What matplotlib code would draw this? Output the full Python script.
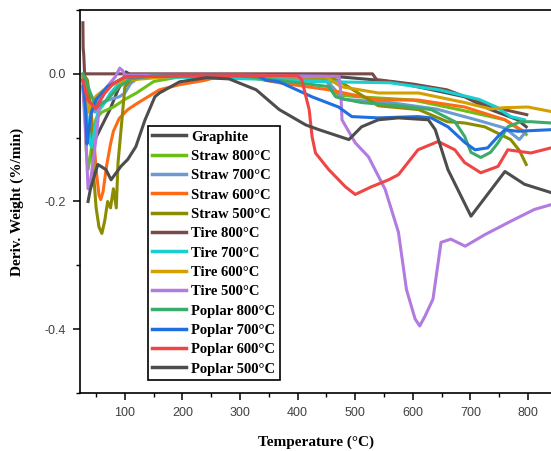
import matplotlib
matplotlib.use("Agg")
import matplotlib.pyplot as plt
from matplotlib.ticker import MultipleLocator

labels = ["Graphite", "Straw 800°C", "Straw 700°C", "Straw 600°C", "Straw 500°C",
          "Tire 800°C", "Tire 700°C", "Tire 600°C", "Tire 500°C",
          "Poplar 800°C", "Poplar 700°C", "Poplar 600°C", "Poplar 500°C"]
colors = ["#4d4d4d", "#6cbf14", "#6b9bd1", "#ff6a14", "#8c8c00",
          "#7a4a48", "#18cfd2", "#d4a000", "#b27bdf",
          "#3aab6a", "#1f6fe0", "#f04545", "#4d4d4d"]

graphite_x = [27, 34, 40, 45, 48, 59, 74, 88, 97, 102, 110, 150, 300, 450, 528, 575, 649, 690, 735, 782, 797]
graphite_y = [-0.02, -0.09, -0.105, -0.112, -0.103, -0.083, -0.056, -0.025, -0.01, 0.003, -0.002, -0.002,
              -0.002, -0.003, -0.009, -0.014, -0.028, -0.036, -0.056, -0.072, -0.083]

straw800_x = [27, 30, 33, 36, 40, 45, 50, 60, 80, 100, 120, 150, 200, 320, 450, 455, 470, 505, 600, 680, 760, 790, 797]
straw800_y = [-0.002, -0.03, -0.12, -0.15, -0.13, -0.09, -0.07, -0.06, -0.052, -0.04, -0.03, -0.012, -0.004,
              -0.003, -0.009, -0.02, -0.033, -0.036, -0.041, -0.056, -0.072, -0.09, -0.095]

straw700_x = [27, 30, 33, 36, 40, 45, 48, 52, 60, 75, 90, 100, 110, 125, 300, 440, 454, 480, 560, 640, 710, 760, 785, 797]
straw700_y = [-0.005, -0.02, -0.06, -0.085, -0.07, -0.05, -0.06, -0.04, -0.045, -0.04, -0.036, -0.03, -0.015,
              -0.005, -0.003, -0.007, -0.014, -0.04, -0.045, -0.055, -0.072, -0.085, -0.103, -0.09]

straw600_x = [27, 35, 40, 45, 50, 55, 58, 62, 68, 75, 80, 90, 105, 120, 140, 160, 195, 240, 270, 300, 368, 454, 540, 609, 690, 760, 794]
straw600_y = [-0.005, -0.03, -0.05, -0.09, -0.15, -0.19, -0.197, -0.185, -0.145, -0.11, -0.09, -0.07, -0.056,
              -0.047, -0.036, -0.025, -0.017, -0.01, -0.002, -0.003, -0.014, -0.025, -0.041, -0.041, -0.052,
              -0.072, -0.091]

straw500_x = [27, 30, 35, 40, 45, 50, 55, 60, 65, 70, 75, 80, 85, 88, 92, 97, 100, 110, 150, 300, 450, 470,
              540, 610, 660, 690, 725, 770, 785, 797]
straw500_y = [0.0, -0.003, -0.01, -0.05, -0.15, -0.21, -0.24, -0.25, -0.23, -0.2, -0.21, -0.18, -0.21, -0.14,
              -0.1, -0.05, -0.02, -0.01, -0.003, -0.002, -0.006, -0.01, -0.05, -0.056, -0.075, -0.077, -0.083,
              -0.103, -0.12, -0.142]

tire800_x = [27, 27.5, 28.5, 30, 530, 537, 600, 659, 739, 798]
tire800_y = [0.08, 0.04, 0.03, 0.0, 0.0, -0.009, -0.016, -0.025, -0.052, -0.064]

tire700_x = [27, 32, 37, 40, 42, 45, 53, 65, 75, 85, 100, 130, 368, 425, 560, 645, 715, 745, 770, 794]
tire700_y = [-0.01, -0.05, -0.09, -0.11, -0.115, -0.1, -0.06, -0.045, -0.03, -0.02, -0.01, -0.004, -0.009,
             -0.012, -0.014, -0.025, -0.04, -0.052, -0.067, -0.072]

tire600_x = [27, 30, 33, 36, 40, 50, 70, 100, 200, 450, 475, 540, 610, 690, 735, 760, 800, 840]
tire600_y = [-0.005, -0.015, -0.04, -0.06, -0.05, -0.035, -0.02, -0.01, -0.003, -0.005, -0.02, -0.03, -0.03,
             -0.045, -0.055, -0.053, -0.052, -0.059]

tire500_x = [27, 32, 36, 40, 45, 50, 57, 69, 83, 91, 96, 100, 300, 472, 475, 477, 500, 523, 552, 575, 589,
             604, 612, 621, 635, 649, 666, 691, 725, 770, 811, 840]
tire500_y = [-0.02, -0.1, -0.18, -0.17, -0.135, -0.1, -0.04, -0.02, -0.005, 0.009, 0.005, -0.002, -0.002,
             -0.004, -0.03, -0.072, -0.108, -0.13, -0.181, -0.248, -0.338, -0.384, -0.395, -0.38, -0.353,
             -0.264, -0.259, -0.27, -0.252, -0.231, -0.2125, -0.205]

poplar800_x = [27, 32, 40, 47, 55, 70, 90, 110, 150, 300, 454, 466, 483, 511, 575, 632, 673, 690, 701, 718,
               735, 748, 765, 787, 805, 840]
poplar800_y = [0.0, -0.01, -0.03, -0.045, -0.05, -0.04, -0.02, -0.008, -0.003, -0.003, -0.02, -0.036, -0.04,
               -0.045, -0.05, -0.056, -0.075, -0.098, -0.123, -0.131, -0.123, -0.108, -0.083, -0.075, -0.075,
               -0.077]

poplar700_x = [27, 32, 34, 37, 42, 50, 70, 100, 200, 330, 345, 368, 425, 471, 494, 540, 609, 632, 661, 691,
               708, 730, 748, 760, 782, 840]
poplar700_y = [-0.01, -0.06, -0.11, -0.09, -0.06, -0.04, -0.02, -0.005, -0.003, -0.003, -0.01, -0.0125,
               -0.036, -0.052, -0.067, -0.069, -0.067, -0.069, -0.083, -0.108, -0.119, -0.116, -0.098,
               -0.0875, -0.09, -0.0875]

poplar600_x = [27, 35, 45, 50, 55, 65, 80, 100, 200, 400, 407, 420, 425, 431, 454, 483, 500, 528, 558, 575,
               609, 644, 673, 690, 718, 748, 765, 805, 840]
poplar600_y = [-0.01, -0.04, -0.05, -0.055, -0.045, -0.03, -0.015, -0.005, -0.003, -0.003, -0.009, -0.056,
               -0.098, -0.124, -0.15, -0.177, -0.189, -0.177, -0.166, -0.158, -0.119, -0.106, -0.119, -0.139,
               -0.155, -0.145, -0.119, -0.124, -0.116]

poplar500_x = [36, 40, 53, 67, 76, 93, 105, 119, 135, 152, 160, 195, 242, 281, 328, 368, 414, 437, 489, 511,
               540, 575, 627, 639, 661, 701, 760, 794, 840]
poplar500_y = [-0.2, -0.181, -0.142, -0.15, -0.166, -0.145, -0.134, -0.114, -0.072, -0.036, -0.030, -0.0125,
               -0.006, -0.008, -0.025, -0.056, -0.080, -0.0875, -0.103, -0.083, -0.072, -0.069, -0.072,
               -0.0875, -0.15, -0.223, -0.153, -0.173, -0.186]

series_x = [graphite_x, straw800_x, straw700_x, straw600_x, straw500_x, tire800_x, tire700_x, tire600_x,
            tire500_x, poplar800_x, poplar700_x, poplar600_x, poplar500_x]
series_y = [graphite_y, straw800_y, straw700_y, straw600_y, straw500_y, tire800_y, tire700_y, tire600_y,
            tire500_y, poplar800_y, poplar700_y, poplar600_y, poplar500_y]

fig = plt.figure(figsize=(5.51, 4.51), dpi=100)
ax = fig.add_axes([80 / 551, 1 - 393 / 451, 1 - 80 / 551, (393 - 10) / 451])

for xs, ys, c, lab in zip(series_x, series_y, colors, labels):
    ax.plot(xs, ys, color=c, lw=2.2, label=lab, solid_joinstyle="round")

ax.set_xlim(22, 840)
ax.set_ylim(-0.5, 0.1)
ax.xaxis.set_minor_locator(MultipleLocator(50))
ax.yaxis.set_minor_locator(MultipleLocator(0.1))
ax.set_yticks([0.0, -0.2, -0.4])
ax.set_yticklabels(["0.0", "-0.2", "-0.4"])
ax.set_xticks([100, 200, 300, 400, 500, 600, 700, 800])
ax.spines["right"].set_visible(False)
for s in ["left", "bottom", "top"]:
    ax.spines[s].set_linewidth(1.2)
ax.tick_params(which="major", direction="out", length=5, width=1.1, labelsize=9, labelcolor="#404040",
               pad=5, labelfontfamily="Liberation Sans")
ax.tick_params(which="minor", direction="out", length=3, width=1.0)
ax.tick_params(axis="x", which="both", top=False)

lab_font = dict(family="Liberation Serif", weight="bold", size=11)
ax.set_xlabel("Temperature (°C)", fontdict=lab_font, labelpad=12)
ax.set_ylabel("Deriv. Weight (%/min)", fontdict=lab_font, labelpad=15)

leg = ax.legend(loc="upper left", bbox_to_anchor=(148 / 551, 1 - 126 / 451),
                bbox_transform=fig.transFigure,
                prop=dict(family="Liberation Serif", weight="bold", size=10.5),
                frameon=True, fancybox=False, edgecolor="black", framealpha=1,
                handlelength=2.3, handletextpad=0.35, labelspacing=0.42,
                borderpad=0.3, borderaxespad=0)
leg.get_frame().set_linewidth(1.2)
for line in leg.get_lines():
    line.set_linewidth(2.5)

fig.savefig("out.png", dpi=100)
